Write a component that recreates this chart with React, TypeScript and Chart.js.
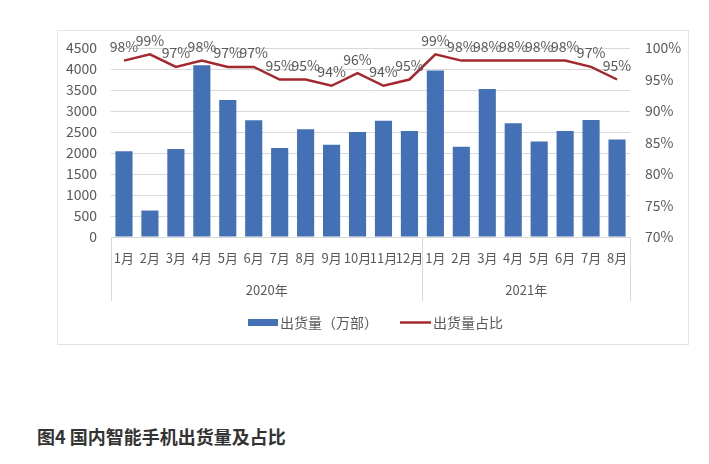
import React, { useEffect, useRef } from 'react';
import { Chart, registerables } from 'chart.js';

Chart.register(...registerables);

const categories = ['1月', '2月', '3月', '4月', '5月', '6月', '7月', '8月', '9月', '10月', '11月', '12月', '1月', '2月', '3月', '4月', '5月', '6月', '7月', '8月'];
const shipments = [2040, 630, 2095, 4087, 3262, 2778, 2119, 2563, 2198, 2500, 2770, 2526, 3963, 2147, 3521, 2708, 2274, 2526, 2787, 2321];
const shareValues = [98, 99, 97, 98, 97, 97, 95, 95, 94, 96, 94, 95, 99, 98, 98, 98, 98, 98, 97, 95];
const yearLabels = ['2020年', '2021年'];
const yearSpans = [12, 8];
const barLabel = '出货量（万部）';
const lineLabel = '出货量占比';
const titleText = '图4 国内智能手机出货量及占比';

const FONT = '"Noto Sans CJK SC", "Noto Sans", sans-serif';
const BAR_COLOR = '#4470B6';
const LINE_COLOR = '#A3282E';
const TEXT_COLOR = '#595959';
const GRID_COLOR = '#D9D9D9';

const extrasPlugin = {
  id: 'extras',
  afterDatasetsDraw(chart: any) {
    const ctx = chart.ctx;
    const lineMeta = chart.getDatasetMeta(1);
    ctx.save();
    ctx.font = `14px ${FONT}`;
    ctx.fillStyle = TEXT_COLOR;
    ctx.textAlign = 'center';
    ctx.textBaseline = 'bottom';
    lineMeta.data.forEach((pt: any, i: number) => {
      ctx.fillText(`${shareValues[i]}%`, pt.x, pt.y - 7);
    });
    ctx.restore();
  },
  afterDraw(chart: any) {
    const ctx = chart.ctx;
    const x = chart.scales.x;
    const area = chart.chartArea;
    const step = x.getPixelForValue(1) - x.getPixelForValue(0);
    const sepBottom = area.bottom + 64;
    ctx.save();
    ctx.strokeStyle = GRID_COLOR;
    ctx.lineWidth = 1;
    let idx = 0;
    const bounds: number[] = [x.getPixelForValue(0) - step / 2];
    yearSpans.forEach((span) => {
      idx += span;
      bounds.push(x.getPixelForValue(idx - 1) + step / 2);
    });
    bounds.forEach((bx) => {
      const px = Math.round(bx) + 0.5;
      ctx.beginPath();
      ctx.moveTo(px, area.bottom);
      ctx.lineTo(px, sepBottom);
      ctx.stroke();
    });
    ctx.font = `13px ${FONT}`;
    ctx.fillStyle = TEXT_COLOR;
    ctx.textAlign = 'center';
    ctx.textBaseline = 'middle';
    yearLabels.forEach((lbl, i) => {
      ctx.fillText(lbl, (bounds[i] + bounds[i + 1]) / 2, area.bottom + 53);
    });

    // legend
    const ly = area.bottom + 85.5;
    ctx.font = `14px ${FONT}`;
    const w1 = ctx.measureText(barLabel).width;
    const w2 = ctx.measureText(lineLabel).width;
    const boxW = 30, lineW = 31, gap = 2, mid = 22;
    const total = boxW + gap + w1 + mid + lineW + gap + w2;
    let lx = (area.left + area.right) / 2 - total / 2 + 5;
    ctx.fillStyle = BAR_COLOR;
    ctx.fillRect(lx, ly - 3.5, boxW, 7);
    lx += boxW + gap;
    ctx.fillStyle = TEXT_COLOR;
    ctx.textAlign = 'left';
    ctx.fillText(barLabel, lx, ly);
    lx += w1 + mid;
    ctx.strokeStyle = LINE_COLOR;
    ctx.lineWidth = 2.5;
    ctx.beginPath();
    ctx.moveTo(lx, ly);
    ctx.lineTo(lx + lineW, ly);
    ctx.stroke();
    lx += lineW + gap;
    ctx.fillText(lineLabel, lx, ly);
    ctx.restore();
  },
};

export default function App() {
  const canvasRef = useRef<HTMLCanvasElement | null>(null);

  useEffect(() => {
    if (!canvasRef.current) return;
    const chart = new Chart(canvasRef.current, {
      type: 'bar',
      data: {
        labels: categories,
        datasets: [
          {
            type: 'bar',
            label: barLabel,
            data: shipments,
            backgroundColor: BAR_COLOR,
            yAxisID: 'y',
            barPercentage: 0.66,
            categoryPercentage: 1,
            order: 1,
          },
          {
            type: 'line',
            label: lineLabel,
            data: shareValues,
            borderColor: LINE_COLOR,
            backgroundColor: LINE_COLOR,
            borderWidth: 2.5,
            pointRadius: 0,
            tension: 0,
            yAxisID: 'y1',
            order: 0,
          } as any,
        ],
      },
      options: {
        animation: false,
        responsive: false,
        maintainAspectRatio: false,
        layout: { padding: { top: 17, left: 0, right: 0, bottom: 0 } },
        plugins: {
          legend: { display: false },
          tooltip: { enabled: false },
          title: { display: false },
        },
        scales: {
          x: {
            grid: { display: false, drawTicks: false },
            border: { display: true, color: GRID_COLOR, width: 1 },
            ticks: {
              padding: 13,
              color: TEXT_COLOR,
              font: { family: FONT, size: 13 },
              maxRotation: 0,
              autoSkip: false,
            },
            afterFit(scale: any) {
              scale.height = 107;
              scale.paddingLeft = 0;
              scale.paddingRight = 0;
            },
          },
          y: {
            position: 'left',
            min: 0,
            max: 4500,
            grid: { color: GRID_COLOR, drawTicks: false },
            border: { display: false },
            ticks: {
              stepSize: 500,
              padding: 14,
              color: TEXT_COLOR,
              font: { family: FONT, size: 14 },
              callback: (v: any) => `${v}`,
            },
            afterFit(scale: any) {
              scale.width = 53;
              scale.paddingTop = 0;
              scale.paddingBottom = 0;
            },
          },
          y1: {
            position: 'right',
            min: 70,
            max: 100,
            grid: { display: false, drawTicks: false },
            border: { display: false },
            ticks: {
              stepSize: 5,
              padding: 15,
              color: TEXT_COLOR,
              font: { family: FONT, size: 14 },
              callback: (v: any) => `${v}%`,
            },
            afterFit(scale: any) {
              scale.width = 58;
              scale.paddingTop = 0;
              scale.paddingBottom = 0;
            },
          },
        },
      },
      plugins: [extrasPlugin],
    });
    return () => chart.destroy();
  }, []);

  return (
    <div style={{ position: 'fixed', left: 0, top: 0, width: 709, height: 464, background: '#fff' }}>
      <div
        style={{
          position: 'absolute',
          left: 57,
          top: 30,
          width: 632,
          height: 315,
          boxSizing: 'border-box',
          border: '1px solid #E3E3E3',
        }}
      >
        <canvas ref={canvasRef} width={630} height={313} style={{ display: 'block', width: 630, height: 313 }} />
      </div>
      <div
        style={{
          position: 'absolute',
          left: 37,
          top: 424,
          fontFamily: FONT,
          fontWeight: 700,
          fontSize: 18,
          color: '#333',
          whiteSpace: 'nowrap',
          lineHeight: '24px',
        }}
      >
        {titleText}
      </div>
    </div>
  );
}
